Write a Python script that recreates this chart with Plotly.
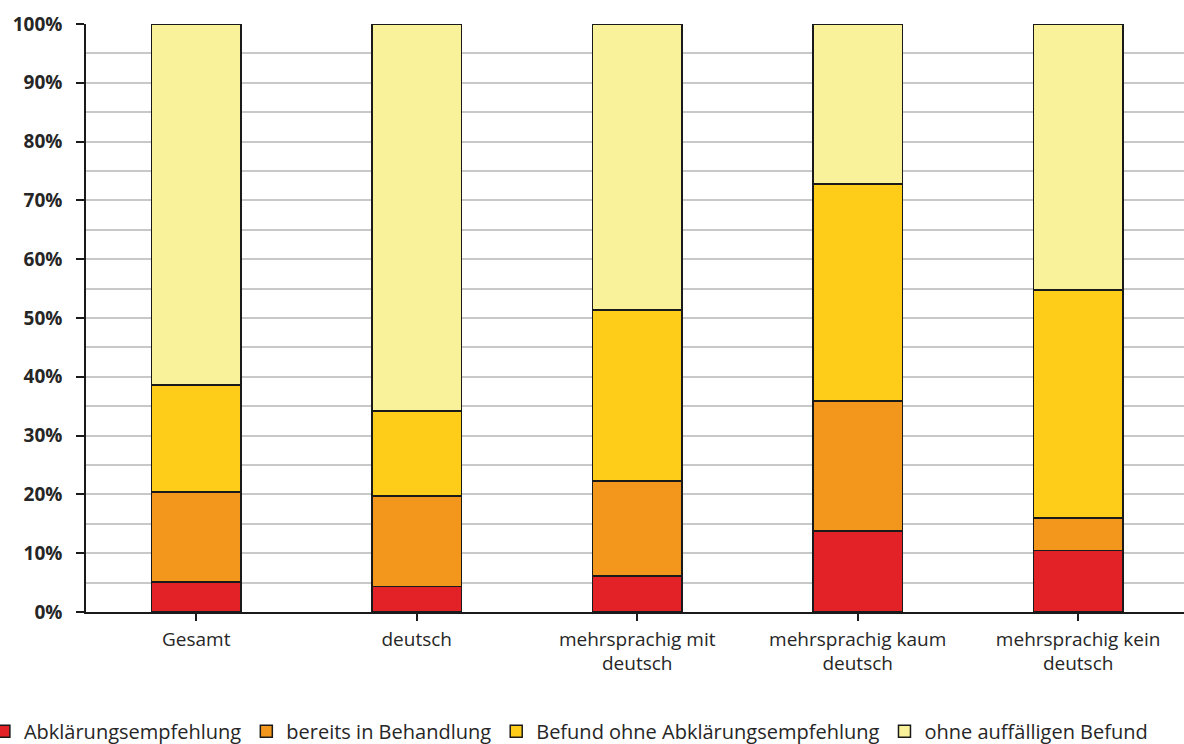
import plotly.graph_objects as go

categories = ["Gesamt", "deutsch", "mehrsprachig mit<br>deutsch",
              "mehrsprachig kaum<br>deutsch", "mehrsprachig kein<br>deutsch"]
series_names = ["Abklärungsempfehlung", "bereits in Behandlung",
                "Befund ohne Abklärungsempfehlung", "ohne auffälligen Befund"]
abklaerung = [0.051, 0.043, 0.061, 0.138, 0.105]
behandlung = [0.153, 0.154, 0.162, 0.221, 0.055]
befund_ohne = [0.182, 0.145, 0.291, 0.369, 0.388]
ohne_befund = [0.614, 0.658, 0.486, 0.272, 0.452]
colors = ["#E32227", "#F3961C", "#FDCD1A", "#FAF29B"]
y_ticks = [i / 10 for i in range(11)]
y_tick_labels = [f"{i * 10}%" for i in range(11)]

font_family = "Open Sans, Liberation Sans, sans-serif"
text_color = "#262626"

fig = go.Figure()
for name, vals, col in zip(series_names, [abklaerung, behandlung, befund_ohne, ohne_befund], colors):
    fig.add_trace(go.Bar(
        x=list(range(len(categories))), y=vals, name=name,
        marker=dict(color=col, line=dict(color="#1a1a1a", width=1.5)),
        width=0.405,
    ))

fig.update_layout(
    barmode="stack",
    width=1184, height=744,
    margin=dict(l=86, r=0, t=24, b=132, autoexpand=False),
    paper_bgcolor="white", plot_bgcolor="white",
    font=dict(family=font_family, size=19, color=text_color),
    showlegend=True,
    legend=dict(orientation="h", x=-0.093, xanchor="left", y=-0.236, yanchor="bottom",
                font=dict(size=20, color=text_color), itemwidth=30,
                traceorder="normal", bgcolor="rgba(0,0,0,0)"),
    bargap=0.6,
)
fig.update_xaxes(
    range=[-0.5, 4.48],
    tickmode="array", tickvals=list(range(len(categories))), ticktext=categories,
    showline=True, linecolor="#1a1a1a", linewidth=1.5,
    ticks="outside", tickson="boundaries", ticklen=7, tickcolor="#1a1a1a", tickwidth=1.5,
    showgrid=False, zeroline=False,
    tickfont=dict(size=19, color=text_color),
    ticklabelstandoff=2,
)
fig.update_yaxes(
    range=[0, 1],
    tickmode="array", tickvals=y_ticks, ticktext=y_tick_labels,
    showline=True, linecolor="#1a1a1a", linewidth=1.5,
    ticks="outside", ticklen=8, tickcolor="#1a1a1a", tickwidth=1.5,
    showgrid=True, gridcolor="#c8c8c8", gridwidth=1.5,
    minor=dict(dtick=0.05, showgrid=True, gridcolor="#c8c8c8", gridwidth=1.5, ticks=""),
    zeroline=False,
    tickfont=dict(size=19, color=text_color, weight="bold"),
    ticklabelstandoff=10,
)

fig.write_html("out.html")
